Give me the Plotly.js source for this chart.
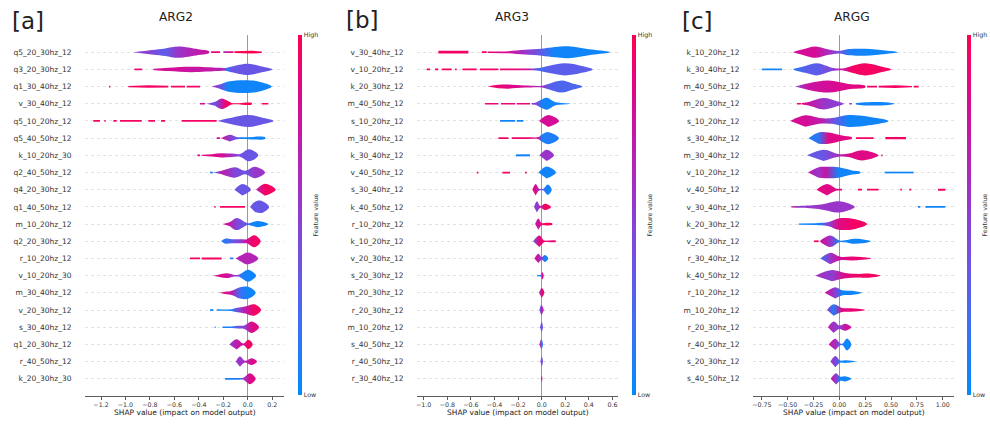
<!DOCTYPE html>
<html>
<head>
<meta charset="utf-8">
<script src="https://cdn.plot.ly/plotly-3.0.1.min.js"></script>
<style>html,body{margin:0;padding:0;background:#fff;}#chart{width:990px;height:425px;}</style>
</head>
<body>
<div id="chart"></div>
<script>
// ---------------- DATA ----------------
// Each row: knots along the SHAP axis (null separates disjoint pieces),
// the violin half-width at each knot (in row units), and the feature value (0=Low,1=High) at each knot.
const ARG2_features = ["q5_20_30hz_12","q3_20_30hz_12","q1_30_40hz_12","v_30_40hz_12","q5_10_20hz_12","q5_40_50hz_12","k_10_20hz_30","q2_40_50hz_12","q4_20_30hz_12","q1_40_50hz_12","m_10_20hz_12","q2_20_30hz_12","r_10_20hz_12","v_10_20hz_30","m_30_40hz_12","v_20_30hz_12","s_30_40hz_12","q1_20_30hz_12","r_40_50hz_12","k_20_30hz_30"];
const ARG2_shap = [
 [-0.936,-0.786,-0.676,-0.567,-0.404,-0.316,null,-0.300,-0.226,null,-0.199,-0.117,null,-0.109,-0.049,0.033,0.115],
 [-0.927,-0.862,null,-0.772,-0.649,-0.458,-0.240,-0.191,-0.172,-0.131,0.005,0.115,0.202],
 [-1.135,-1.124,null,-0.977,-0.813,-0.649,null,-0.627,-0.513,null,-0.499,-0.390,null,-0.295,-0.240,-0.158,-0.022,0.087,0.196],
 [-0.390,-0.349,null,-0.336,-0.267,-0.213,-0.172,-0.131,0.033,null,0.115,0.169],
 [-1.263,-1.208,null,-1.173,-1.162,null,-1.099,-1.072,null,-1.045,-0.867,null,-0.813,-0.758,null,-0.709,-0.676,null,-0.540,-0.254,null,-0.245,-0.158,0.005,0.115,0.210],
 [-0.254,-0.226,null,-0.218,-0.145,-0.090,-0.049,0.142],
 [-0.412,-0.390,null,-0.376,-0.295,-0.213,-0.131,-0.063,0.011,0.087],
 [-0.308,-0.286,null,-0.281,-0.213,-0.104,-0.022,0.060,0.142],
 [-0.109,-0.044,0.027,null,0.068,0.142,0.229],
 [-0.273,-0.262,null,-0.226,-0.022,null,0.019,0.060,0.115,0.175],
 [-0.205,-0.145,-0.090,0.000,0.033,0.087,0.169],
 [-0.218,-0.185,-0.131,-0.049,-0.008,0.055,0.106],
 [-0.472,-0.390,null,-0.376,-0.213,null,-0.145,-0.117,null,-0.098,-0.049,0.000,0.087],
 [-0.286,-0.240,-0.172,-0.117,-0.076,-0.055,0.005,0.068],
 [-0.235,-0.185,-0.131,-0.063,0.005,0.065],
 [-0.308,-0.281,null,-0.254,-0.131,-0.104,-0.022,0.055,0.109],
 [-0.270,-0.262,null,-0.207,-0.131,-0.076,-0.027,0.033,0.093],
 [-0.150,-0.090,-0.035,0.005,0.041],
 [-0.098,-0.063,-0.022,0.033,0.076],
 [-0.185,-0.071,-0.035,0.019,0.065]
];
const ARG2_width = [
 [0,0.13,0.22,0.33,0.17,0.05,null,0.05,0.05,null,0.05,0.05,null,0.05,0.08,0.08,0.04],
 [0.05,0.05,null,0.03,0.1,0.16,0.1,0.08,0.09,0.17,0.33,0.17,0],
 [0.05,0.05,null,0.04,0.07,0.05,null,0.05,0.05,null,0.05,0.05,null,0,0.1,0.3,0.37,0.3,0],
 [0.05,0.05,null,0,0.12,0.31,0.2,0.05,0.05,null,0.05,0.05],
 [0.05,0.05,null,0.05,0.05,null,0.05,0.05,null,0.05,0.05,null,0.05,0.05,null,0.05,0.05,null,0.05,0.05,null,0,0.15,0.35,0.2,0],
 [0.05,0.05,null,0,0.2,0.07,0.05,0.05],
 [0.05,0.05,null,0.03,0.07,0.12,0.1,0.08,0.35,0],
 [0.05,0.05,null,0,0.1,0.3,0.1,0.33,0],
 [0,0.33,0,null,0,0.35,0],
 [0.05,0.05,null,0.05,0.05,null,0,0.3,0.35,0],
 [0,0.12,0.35,0.05,0.1,0.18,0],
 [0,0.15,0.12,0.12,0.12,0.35,0],
 [0.05,0.05,null,0.06,0.06,null,0.05,0.05,null,0,0.2,0.35,0],
 [0,0.06,0.14,0.06,0.05,0.12,0.35,0],
 [0,0.06,0.12,0.33,0.35,0],
 [0.05,0.05,null,0.04,0.05,0.1,0.2,0.33,0],
 [0.05,0.05,null,0.04,0.05,0.08,0.1,0.33,0],
 [0,0.3,0.05,0.27,0],
 [0,0.3,0.05,0.2,0],
 [0.05,0.05,0.06,0.32,0]
];
const ARG2_value = [
 [0.55,0.45,0.3,0.55,0.7,0.75,null,0.9,0.9,null,0.6,0.95,null,1,1,1,1],
 [0.9,0.9,null,0.8,0.8,0.75,0.7,0.6,0.1,0.35,0.35,0.35,0.35],
 [0.9,0.9,null,0.95,0.95,0.95,null,0.95,0.95,null,0.95,0.95,null,0.6,0.45,0.05,0.05,0.05,0.05],
 [0.8,0.8,null,0.5,0.35,0.7,0.95,1,1,null,1,1],
 [0.95,0.95,null,0.95,0.95,null,0.95,0.95,null,0.95,0.95,null,0.95,0.95,null,0.95,0.95,null,0.95,0.95,null,0.35,0.35,0.35,0.35,0.35],
 [0.8,0.8,null,0.8,0.5,0.35,0.05,0.05],
 [0.85,0.85,null,0.85,0.85,0.8,0.6,0.4,0.35,0.35],
 [0.1,0.1,null,0.2,0.7,0.45,0.35,0.55,0.55],
 [0.35,0.35,0.35,null,0.65,0.95,0.95],
 [0.95,0.95,null,0.95,0.95,null,0.35,0.35,0.35,0.35],
 [0.85,0.7,0.45,0.3,0.05,0.05,0.05],
 [0.1,0.15,0.3,0.55,0.8,0.95,0.95],
 [0.95,0.95,null,0.95,0.95,null,0.1,0.1,null,0.65,0.65,0.65,0.65],
 [0.85,0.85,0.8,0.6,0.4,0.1,0.05,0.05],
 [0.9,0.85,0.7,0.2,0.05,0.05],
 [0.05,0.05,null,0.05,0.05,0.3,0.7,0.95,0.95],
 [0.05,0.05,null,0.05,0.1,0.35,0.5,0.85,0.85],
 [0.5,0.7,0.8,0.95,0.95],
 [0.55,0.55,0.6,0.85,0.85],
 [0.05,0.1,0.5,0.85,0.85]
];

const ARG3_features = ["v_30_40hz_12","v_10_20hz_12","k_20_30hz_12","m_40_50hz_12","s_10_20hz_12","m_30_40hz_12","k_30_40hz_12","v_40_50hz_12","s_30_40hz_12","k_40_50hz_12","r_10_20hz_12","k_10_20hz_12","v_20_30hz_12","s_20_30hz_12","m_20_30hz_12","r_20_30hz_12","m_10_20hz_12","s_40_50hz_12","r_40_50hz_12","r_30_40hz_12"];
const ARG3_shap = [
 [-0.876,-0.621,null,-0.508,-0.466,null,-0.458,-0.282,-0.141,0,0.113,0.226,0.424,0.579],
 [-0.975,-0.946,null,-0.904,-0.876,null,-0.847,-0.763,null,-0.734,-0.720,null,-0.672,-0.551,null,-0.523,-0.367,null,-0.353,-0.226,-0.113,-0.028,0.056,0.198,0.339,0.432],
 [-0.458,-0.367,-0.282,-0.141,0,0.056,0.169,0.254,0.345],
 [-0.480,-0.367,null,-0.345,-0.226,null,-0.212,-0.099,null,-0.085,-0.056,0,0.042,0.113,0.169,0.249],
 [-0.353,-0.226,null,-0.212,-0.155,null,-0.023,0.056,0.147],
 [-0.367,-0.282,null,-0.254,-0.113,-0.028,0,0.056,0.147],
 [-0.218,-0.099,null,-0.020,0.042,0.105],
 [-0.551,-0.537,null,-0.333,-0.268,null,-0.141,-0.127,null,-0.028,0.042,0.121],
 [-0.079,-0.051,-0.020,0.014,0.051,0.085],
 [-0.065,-0.040,-0.011,0.028,0.079],
 [-0.056,-0.028,0,0.042,0.090],
 [-0.073,-0.020,0.014,0.028,0.119],
 [-0.062,-0.028,0,0.028,0.056],
 [-0.037,-0.006,0.006,0.017],
 [-0.023,0,0.023],
 [-0.020,-0.003,0.017],
 [-0.014,0,0.011],
 [-0.020,-0.003,0.011],
 [-0.011,0,0.011],
 [-0.006,0,0.006]
];
const ARG3_width = [
 [0.08,0.08,null,0.05,0.05,null,0.04,0.06,0.14,0.2,0.3,0.35,0.15,0],
 [0.05,0.05,null,0.05,0.05,null,0.05,0.05,null,0.05,0.05,null,0.05,0.05,null,0.05,0.05,null,0.05,0.05,0.05,0.08,0.2,0.35,0.2,0],
 [0,0.1,0.12,0.06,0.05,0.15,0.35,0.2,0],
 [0.05,0.05,null,0.05,0.05,null,0.05,0.05,null,0.04,0.06,0.25,0.35,0.1,0.05,0],
 [0.05,0.05,null,0.05,0.05,null,0,0.35,0],
 [0.05,0.05,null,0.05,0.05,0.06,0.2,0.35,0],
 [0.06,0.06,null,0,0.33,0],
 [0.05,0.05,null,0.05,0.05,null,0.05,0.05,null,0,0.35,0],
 [0,0.33,0.05,0.05,0.3,0],
 [0,0.33,0.05,0.18,0],
 [0,0.33,0.06,0.08,0.04],
 [0,0.33,0.08,0.04,0.04],
 [0,0.27,0.08,0.2,0],
 [0.05,0.05,0.22,0],
 [0,0.28,0],
 [0,0.3,0],
 [0,0.3,0],
 [0,0.3,0],
 [0,0.3,0],
 [0,0.2,0]
];
const ARG3_value = [
 [0.95,0.95,null,0.95,0.95,null,0.9,0.8,0.55,0.3,0.05,0.05,0.05,0.05],
 [0.95,0.95,null,0.95,0.95,null,0.95,0.95,null,0.95,0.95,null,0.95,0.95,null,0.95,0.95,null,0.95,0.9,0.75,0.2,0.3,0.3,0.3,0.3],
 [0.95,0.9,0.85,0.8,0.6,0.3,0.25,0.25,0.25],
 [0.9,0.9,null,0.9,0.9,null,0.9,0.9,null,0.6,0.5,0.1,0.05,0.05,0.05,0.05],
 [0.05,0.05,null,0.05,0.05,null,0.8,0.8,0.8],
 [0.95,0.95,null,0.95,0.9,0.75,0.1,0.1,0.1],
 [0.05,0.05,null,0.55,0.55,0.55],
 [0.95,0.95,null,0.95,0.95,null,0.95,0.95,null,0.05,0.05,0.05],
 [0.85,0.85,0.55,0.2,0.05,0.05],
 [0.5,0.5,0.7,0.95,0.95],
 [0.75,0.75,0.95,0.95,0.95],
 [0.3,0.9,0.9,0.9,0.9],
 [0.8,0.7,0.5,0.05,0.05],
 [0.05,0.05,0.8,0.8],
 [0.35,0.9,0.95],
 [0.1,0.6,0.8],
 [0.35,0.35,0.35],
 [0.85,0.3,0.1],
 [0.4,0.4,0.4],
 [0.8,0.8,0.8]
];

const ARGG_features = ["k_10_20hz_12","k_30_40hz_12","m_40_50hz_12","m_20_30hz_12","s_10_20hz_12","s_30_40hz_12","m_30_40hz_12","v_10_20hz_12","v_40_50hz_12","v_30_40hz_12","k_20_30hz_12","v_20_30hz_12","r_30_40hz_12","k_40_50hz_12","r_10_20hz_12","m_10_20hz_12","r_20_30hz_12","r_40_50hz_12","s_20_30hz_12","s_40_50hz_12"];
const ARGG_shap = [
 [-0.451,-0.361,-0.232,-0.103,0,0.090,0.251,0.445,0.564],
 [-0.748,-0.554,null,-0.442,-0.329,-0.216,-0.071,0.026,0.122,0.251,0.413,0.500],
 [-0.426,-0.297,-0.103,0.090,0.251,null,0.268,0.364,null,0.380,0.542,0.703,null,0.719,0.767],
 [-0.409,-0.368,null,-0.361,-0.297,-0.152,-0.023,0.042,null,0.097,0.122,null,0.161,0.219,0.413,0.535],
 [-0.474,-0.329,-0.168,-0.071,0.090,0.284,0.477],
 [-0.297,-0.200,-0.103,0.026,0.122,null,0.161,0.332,null,0.445,0.645],
 [-0.313,-0.152,-0.006,0.090,0.219,0.380,null,0.406,0.419],
 [-0.303,-0.200,-0.135,-0.006,0.122,0.203,null,0.438,0.719],
 [-0.222,-0.119,-0.023,0.026,null,0.181,0.219,null,0.268,0.380,null,0.590,0.606,null,0.677,0.696,null,0.954,1.025],
 [-0.464,-0.409,-0.200,-0.006,0.090,0.148,null,0.761,0.783,null,0.832,1.025],
 [-0.393,-0.200,-0.103,-0.006,0.155,0.268],
 [-0.245,-0.200,null,-0.184,-0.087,0,0.058,0.122,0.219,0.306],
 [-0.184,-0.087,0.010,0.122,0.219,0.309],
 [-0.232,-0.071,0.058,0.187,0.268,0.397],
 [-0.142,-0.039,0.026,0.122,0.219],
 [-0.119,-0.055,0.026,0.122,0.251],
 [-0.110,-0.055,0,0.058,0.116],
 [-0.103,-0.039,0.010,0.032,0.074,0.116],
 [-0.087,-0.039,0.010,0.058,0.161],
 [-0.084,-0.032,0.010,0.058,0.116]
];
const ARGG_width = [
 [0,0.15,0.33,0.15,0.07,0.18,0.2,0.1,0],
 [0.05,0.05,null,0.03,0.2,0.35,0.1,0.05,0.2,0.35,0.15,0],
 [0,0.2,0.35,0.15,0.05,null,0.05,0.05,null,0.05,0.08,0.04,null,0.05,0.05],
 [0.05,0.05,null,0.04,0.1,0.33,0.15,0,null,0.05,0.05,null,0.04,0.08,0.1,0],
 [0,0.33,0.15,0.17,0.35,0.25,0],
 [0,0.33,0.33,0.15,0.04,null,0.05,0.05,null,0.06,0.06],
 [0,0.33,0.08,0.1,0.3,0,null,0.05,0.05],
 [0,0.3,0.33,0.3,0.12,0.04,null,0.05,0.05],
 [0,0.33,0.05,0.04,null,0.05,0.05,null,0.05,0.05,null,0.05,0.05,null,0.05,0.05,null,0.06,0.06],
 [0.04,0.05,0.12,0.33,0.2,0,null,0.05,0.05,null,0.05,0.05],
 [0.04,0.06,0.12,0.33,0.28,0],
 [0.05,0.05,null,0.04,0.33,0.05,0.06,0.14,0.12,0],
 [0,0.33,0.1,0.12,0.08,0],
 [0,0.33,0.15,0.1,0.12,0],
 [0,0.33,0.15,0.12,0],
 [0,0.33,0.12,0.1,0],
 [0,0.33,0.1,0.2,0],
 [0,0.33,0.05,0.05,0.35,0],
 [0,0.33,0.06,0.08,0],
 [0,0.33,0.12,0.15,0]
];
const ARGG_value = [
 [0.8,0.8,0.8,0.6,0.4,0.1,0.05,0.05,0.05],
 [0.05,0.05,null,0.1,0.3,0.3,0.45,0.75,0.95,0.95,0.95,0.95],
 [0.5,0.75,0.8,0.85,0.9,null,0.95,0.95,null,0.95,0.95,0.95,null,0.95,0.95],
 [0.95,0.95,null,0.9,0.75,0.55,0.5,0.5,null,0.5,0.5,null,0.05,0.05,0.05,0.05],
 [0.8,0.8,0.7,0.4,0.05,0.05,0.05],
 [0.1,0.15,0.85,0.85,0.9,null,0.95,0.95,null,0.95,0.95],
 [0.35,0.35,0.6,0.85,0.85,0.85,null,0.85,0.85],
 [0.7,0.55,0.75,0.05,0.05,0.05,null,0.05,0.05],
 [0.85,0.85,0.85,0.85,null,0.95,0.95,null,0.95,0.95,null,0.95,0.95,null,0.95,0.95,null,0.95,0.95],
 [0.95,0.5,0.55,0.55,0.55,0.55,null,0.05,0.05,null,0.05,0.05],
 [0.05,0.05,0.5,0.85,0.95,0.95],
 [0.95,0.95,null,0.8,0.55,0.1,0.05,0.05,0.05,0.05],
 [0.15,0.55,0.8,0.9,0.9,0.9],
 [0.6,0.5,0.85,0.95,0.95,0.95],
 [0.8,0.5,0.05,0.05,0.05],
 [0.5,0.1,0.85,0.9,0.9],
 [0.7,0.55,0.5,0.75,0.75],
 [0.8,0.6,0.3,0.05,0.05,0.05],
 [0.5,0.5,0.05,0.05,0.05],
 [0.8,0.5,0.05,0.05,0.05]
];

const PANEL_LABELS = ["[a]","[b]","[c]"];
const PANEL_TITLES = ["ARG2","ARG3","ARGG"];
const X_TITLE = "SHAP value (impact on model output)";

// ---------------- STYLE ----------------
const FONT = "DejaVu Sans";
const CMAP_POS = [0, 0.2, 0.4, 0.5, 0.6, 0.8, 1];
const CMAP_RGB = [[0,139,251],[62,110,243],[118,78,224],[140,62,210],[168,44,192],[212,12,150],[255,0,81]];
const CMAP = CMAP_POS.map((p,i)=>[p,'rgb('+CMAP_RGB[i].join(',')+')']);
const THIN = 0.085;   // pieces no wider than this are drawn with straight edges

function colorAt(v){
  v = Math.max(0, Math.min(1, v));
  for (let i=1;i<CMAP_POS.length;i++){
    if (v <= CMAP_POS[i]){
      const t = (v - CMAP_POS[i-1])/(CMAP_POS[i]-CMAP_POS[i-1]);
      const a = CMAP_RGB[i-1], b = CMAP_RGB[i];
      return 'rgb('+[0,1,2].map(k=>Math.round(a[k]+(b[k]-a[k])*t)).join(',')+')';
    }
  }
  return 'rgb('+CMAP_RGB[CMAP_RGB.length-1].join(',')+')';
}

function buildTraces(shapRows, widthRows, valueRows, xa, ya){
  const traces = [];
  const nRows = shapRows.length;
  shapRows.forEach((xs, i) => {
    const ws = widthRows[i], cs = valueRows[i];
    if (xs.length !== ws.length || xs.length !== cs.length) throw new Error('length mismatch '+xa+' row '+i+': '+xs.length+'/'+ws.length+'/'+cs.length);
    const yc = nRows - 1 - i;
    const paths = {thin:{X:[],Y:[]}, body:{X:[],Y:[]}};
    let piece = [];
    const flush = () => {
      if (!piece.length) return;
      const n = piece.length;
      const maxW = Math.max.apply(null, piece.map(p=>p[1]));
      const tgt = maxW <= THIN ? paths.thin : paths.body;
      for (let k=0;k<n;k++){ tgt.X.push(piece[k][0]); tgt.Y.push(yc + piece[k][1]); }
      for (let k=n-1;k>=0;k--){
        if (k===n-1 && piece[k][1]===0) continue;
        if (k===0 && piece[k][1]===0) continue;
        tgt.X.push(piece[k][0]); tgt.Y.push(yc - piece[k][1]);
      }
      tgt.X.push(null); tgt.Y.push(null);
      piece = [];
    };
    xs.forEach((x,k)=>{ if (x===null) flush(); else piece.push([x, ws[k]]); });
    flush();
    const pts = xs.map((x,k)=>[x,cs[k]]).filter(p=>p[0]!==null).sort((a,b)=>a[0]-b[0]);
    const x0 = pts[0][0], x1 = pts[pts.length-1][0];
    const scale = pts.map(p=>[(p[0]-x0)/(x1-x0), colorAt(p[1])]);
    scale[0][0] = 0; scale[scale.length-1][0] = 1;
    [['thin','linear'],['body','spline']].forEach(([key, shape]) => {
      const P = paths[key];
      if (!P.X.length) return;
      traces.push({
        type:'scatter', mode:'lines', x:P.X, y:P.Y, xaxis:xa, yaxis:ya,
        fill:'toself',
        line:{width:0, shape:shape, smoothing:1, color:'rgba(0,0,0,0)'},
        fillgradient:{type:'horizontal', colorscale:scale, start:x0, stop:x1},
        hoverinfo:'skip', showlegend:false
      });
    });
  });
  return traces;
}

const W = 990, H = 425;
const px = v => v/W, py = v => 1 - v/H;

const panels = [
  {shap:ARG2_shap, width:ARG2_width, value:ARG2_value, feats:ARG2_features, xa:'x', ya:'y', dom:[85,284], range:[-1.331,0.297], dtick:0.2, fmt:'.1f', cbx:298, lbl:[28,21], ttl:176, xt:184.5},
  {shap:ARG3_shap, width:ARG3_width, value:ARG3_value, feats:ARG3_features, xa:'x2', ya:'y2', dom:[417,618], range:[-1.057,0.647], dtick:0.2, fmt:'.1f', cbx:631.5, lbl:[362,20], ttl:512, xt:518},
  {shap:ARGG_shap, width:ARGG_width, value:ARGG_value, feats:ARGG_features, xa:'x3', ya:'y3', dom:[753,954], range:[-0.835,1.109], dtick:0.25, fmt:'.2f', cbx:967, lbl:[697,21], ttl:852, xt:854}
];

let data = [];
const layout = {
  width:W, height:H, margin:{l:0,r:0,t:0,b:0},
  paper_bgcolor:'#fff', plot_bgcolor:'#fff', showlegend:false,
  font:{family:FONT, color:'#333'},
  annotations:[]
};

panels.forEach((p, idx) => {
  data = data.concat(buildTraces(p.shap, p.width, p.value, p.xa, p.ya));
  // colorbar carrier (out of visible range)
  data.push({
    type:'scatter', mode:'markers', x:[0,0], y:[-50,-50], xaxis:p.xa, yaxis:p.ya,
    marker:{size:1, color:[0,1], cmin:0, cmax:1, colorscale:CMAP, showscale:true,
      colorbar:{x:px(p.cbx), xanchor:'left', xpad:0, y:py(215), yanchor:'middle', ypad:0,
        len:360/H, lenmode:'fraction', thickness:4, thicknessmode:'pixels', outlinewidth:0,
        tickvals:[0,1], ticktext:['Low','High'], ticks:'', tickfont:{size:6.3, color:'#333', family:FONT},
        title:{text:'Feature value', side:'right', font:{size:6.3, color:'#333', family:FONT}}}},
    hoverinfo:'skip', showlegend:false
  });
  const n = p.feats.length;
  const xk = idx===0 ? 'xaxis' : 'xaxis'+(idx+1);
  const yk = idx===0 ? 'yaxis' : 'yaxis'+(idx+1);
  layout[xk] = {
    domain:[px(p.dom[0]), px(p.dom[1])], range:p.range, anchor:p.ya,
    tick0:0, dtick:p.dtick, tickformat:p.fmt,
    showgrid:false, zeroline:true, zerolinecolor:'#9a9a9a', zerolinewidth:1,
    showline:true, linecolor:'#333', linewidth:0.8,
    ticks:'outside', ticklen:3, tickwidth:0.8, tickcolor:'#333',
    tickfont:{size:6.3, color:'#333', family:FONT}, fixedrange:true
  };
  layout[yk] = {
    domain:[py(396), py(35)], range:[-1, n], anchor:p.xa,
    tickvals:p.feats.map((f,i)=>n-1-i), ticktext:p.feats,
    showgrid:true, gridcolor:'#cfcfcf', griddash:'dot', gridwidth:0.6,
    zeroline:false, showline:false,
    ticks:'outside', ticklen:11, tickcolor:'rgba(0,0,0,0)',
    tickfont:{size:7.5, color:'#333', family:FONT}, fixedrange:true
  };
  layout.annotations.push(
    {text:PANEL_LABELS[idx], xref:'paper', yref:'paper', x:px(p.lbl[0]), y:py(p.lbl[1]), xanchor:'center', yanchor:'middle', showarrow:false, font:{size:23, color:'#222', family:FONT}},
    {text:PANEL_TITLES[idx], xref:'paper', yref:'paper', x:px(p.ttl), y:py(17.5), xanchor:'center', yanchor:'middle', showarrow:false, font:{size:12.2, color:'#222', family:FONT}},
    {text:X_TITLE, xref:'paper', yref:'paper', x:px(p.xt), y:py(412), xanchor:'center', yanchor:'middle', showarrow:false, font:{size:7.5, color:'#222', family:FONT}}
  );
});

Plotly.newPlot('chart', data, layout, {staticPlot:true, displayModeBar:false});
</script>
</body>
</html>
